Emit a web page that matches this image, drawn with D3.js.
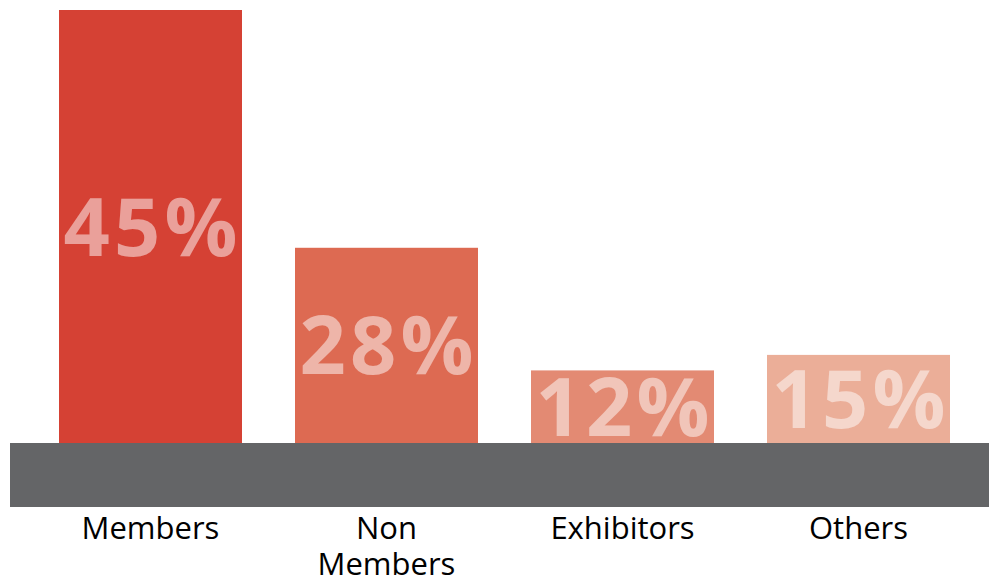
<!DOCTYPE html>
<html>
<head>
<meta charset="utf-8">
<script src="https://cdn.jsdelivr.net/npm/d3@7"></script>
<style>
    body { margin: 0; background: #fff; }
    svg { display: block; }
</style>
</head>
<body>
<div id="chart"></div>
<script>
// 数据
const categories = ["Members", "Non Members", "Exhibitors", "Others"];
const shares = [45, 28, 12, 15];
const barColors = ["#d54134", "#dd6a52", "#e38a73", "#ebae98"];

const width = 989;
const height = 583;
const baseY = 443;     // 灰色底带顶部
const bandH = 64;

const svg = d3.select('#chart')
    .append('svg')
    .attr('width', width)
    .attr('height', height);

// X轴比例尺
const x = d3.scaleBand()
    .domain(categories)
    .range([59, 950])
    .paddingInner(0.2246)
    .paddingOuter(0);

// Y轴比例尺 (原图柱高并非线性; 平方比例尺, 零点藏在灰色底带后面)
const y = d3.scalePow()
    .exponent(2)
    .domain([0, 45])
    .range([398, 10]);

const data = categories.map((c, i) => ({ cat: c, v: shares[i], color: barColors[i] }));

// 柱子
svg.selectAll('.bar')
    .data(data)
    .enter()
    .append('rect')
    .attr('class', 'bar')
    .attr('x', d => x(d.cat))
    .attr('width', x.bandwidth())
    .attr('y', d => y(d.v))
    .attr('height', d => baseY - y(d.v))
    .attr('fill', d => d.color);

// 灰色底带
svg.append('rect')
    .attr('x', 10)
    .attr('y', baseY)
    .attr('width', width - 10)
    .attr('height', bandH)
    .attr('fill', '#646567');

// 百分比标签
svg.selectAll('.pct')
    .data(data)
    .enter()
    .append('text')
    .attr('class', 'pct')
    .attr('x', d => x(d.cat) + x.bandwidth() / 2)
    .attr('y', d => (y(d.v) + baseY) / 2 + 29)
    .attr('text-anchor', 'middle')
    .attr('textLength', x.bandwidth() - 9)
    .attr('lengthAdjust', 'spacing')
    .style('font-family', '"Open Sans", sans-serif')
    .style('font-weight', 'bold')
    .style('font-size', '81px')
    .style('fill', '#fff')
    .style('fill-opacity', 0.5)
    .text(d => d.v + '%');

// 类别标签 (可换行)
const cats = svg.selectAll('.cat')
    .data(data)
    .enter()
    .append('text')
    .attr('class', 'cat')
    .attr('text-anchor', 'middle')
    .style('font-family', '"Open Sans", sans-serif')
    .style('font-size', '31px')
    .style('fill', '#000');

cats.each(function(d) {
    const words = d.cat === 'Non Members' ? ['Non', 'Members'] : [d.cat];
    const t = d3.select(this);
    words.forEach((w, i) => {
        t.append('tspan')
            .attr('x', x(d.cat) + x.bandwidth() / 2)
            .attr('y', 539 + i * 36)
            .text(w);
    });
});
</script>
</body>
</html>
